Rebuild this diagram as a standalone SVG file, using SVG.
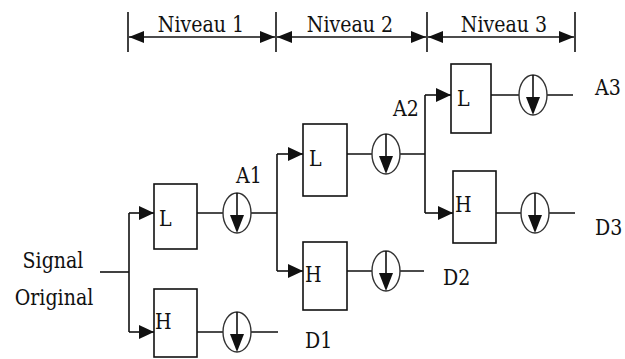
<svg xmlns="http://www.w3.org/2000/svg" xmlns:xlink="http://www.w3.org/1999/xlink" width="625" height="359" viewBox="0 0 625 359">
<style>
.ln{stroke:#111;stroke-width:1.6;fill:none}
.box{stroke:#111;stroke-width:1.6;fill:#fff}
text{font-family:'DejaVu Serif','Liberation Serif','Times New Roman',Times,serif;font-size:19px;fill:#111}
.tc{text-anchor:middle}
</style>
<defs>
<marker id="ah" markerUnits="userSpaceOnUse" markerWidth="16" markerHeight="16" viewBox="0 0 16 16" refX="15" refY="8" orient="auto">
<path d="M0,1 L15,8 L0,15 Z" fill="#111"/>
</marker>
<marker id="hh" markerUnits="userSpaceOnUse" markerWidth="16" markerHeight="14" viewBox="0 0 16 14" refX="15" refY="7" orient="auto-start-reverse">
<path d="M0,1 L15,7 L0,13 Z" fill="#111"/>
</marker>
<g id="ds">
<ellipse cx="0" cy="0" rx="14" ry="20" fill="#fff" stroke="#333" stroke-width="1.4"/>
<line x1="0" y1="-20" x2="0" y2="4" stroke="#111" stroke-width="1.6"/>
<path d="M-7,2 L7,2 L0,20 Z" fill="#111"/>
</g>
</defs>

<g id="header">
<line class="ln" x1="128" y1="12" x2="128" y2="52"/>
<line class="ln" x1="276" y1="12" x2="276" y2="52"/>
<line class="ln" x1="427" y1="12" x2="427" y2="52" stroke="#888"/>
<line class="ln" x1="575" y1="12" x2="575" y2="52"/>
<line class="ln" x1="129" y1="37" x2="275" y2="37" marker-start="url(#hh)" marker-end="url(#hh)"/>
<line class="ln" x1="277" y1="37" x2="426" y2="37" marker-start="url(#hh)" marker-end="url(#hh)"/>
<line class="ln" x1="428" y1="37" x2="574" y2="37" marker-start="url(#hh)" marker-end="url(#hh)"/>
<text class="tc" transform="translate(201,32) scale(1,1.2)">Niveau 1</text>
<text class="tc" transform="translate(350,32) scale(1,1.2)">Niveau 2</text>
<text class="tc" transform="translate(504,32) scale(1,1.2)">Niveau 3</text>
</g>

<g id="connectors">
<path class="ln" d="M100,272 H129"/>
<path class="ln" d="M129,213 V332"/>
<path class="ln" d="M129,213 H154" marker-end="url(#ah)"/>
<path class="ln" d="M129,332 H154" marker-end="url(#ah)"/>
<path class="ln" d="M197,213 H223 M251,213 H277"/>
<path class="ln" d="M197,332 H223 M251,332 H278"/>
<path class="ln" d="M277,154 V271"/>
<path class="ln" d="M277,154 H303" marker-end="url(#ah)"/>
<path class="ln" d="M277,271 H303" marker-end="url(#ah)"/>
<path class="ln" d="M347,154 H372 M400,154 H425"/>
<path class="ln" d="M347,271 H372 M400,271 H424"/>
<path class="ln" d="M425,95 V213"/>
<path class="ln" d="M425,95 H451" marker-end="url(#ah)"/>
<path class="ln" d="M425,213 H453" marker-end="url(#ah)"/>
<path class="ln" d="M491,95 H519 M547,95 H573"/>
<path class="ln" d="M496,213 H521 M549,213 H575"/>
</g>

<g id="input">
<text class="tc" transform="translate(53,268) scale(1,1.2)">Signal</text>
<text class="tc" transform="translate(54,305) scale(1,1.2)">Original</text>
</g>

<g id="L1"><rect class="box" x="154" y="184" width="43" height="65"/><text transform="translate(159,226) scale(1,1.2)">L</text></g>
<g id="H1"><rect class="box" x="154" y="289" width="43" height="68"/><text transform="translate(155,329) scale(1,1.2)">H</text></g>
<g id="DS_L1"><use xlink:href="#ds" x="237" y="213"/></g>
<g id="DS_H1"><use xlink:href="#ds" x="237" y="332"/></g>

<g id="L2"><rect class="box" x="303" y="124" width="44" height="72"/><text transform="translate(309,166) scale(1,1.2)">L</text></g>
<g id="H2"><rect class="box" x="303" y="242" width="44" height="68"/><text transform="translate(305,282) scale(1,1.2)">H</text></g>
<g id="DS_L2"><use xlink:href="#ds" x="386" y="154"/></g>
<g id="DS_H2"><use xlink:href="#ds" x="386" y="271"/></g>

<g id="L3"><rect class="box" x="451" y="64" width="40" height="69"/><text transform="translate(457,106) scale(1,1.2)">L</text></g>
<g id="H3"><rect class="box" x="453" y="171" width="43" height="72"/><text transform="translate(455,212) scale(1,1.2)">H</text></g>
<g id="DS_L3"><use xlink:href="#ds" x="533" y="95"/></g>
<g id="DS_H3"><use xlink:href="#ds" x="535" y="213"/></g>

<g id="labels">
<text transform="translate(236,183) scale(1,1.2)">A1</text>
<text transform="translate(393,116) scale(1,1.2)">A2</text>
<text transform="translate(595,95) scale(1,1.2)">A3</text>
<text transform="translate(305,348) scale(1,1.2)">D1</text>
<text transform="translate(443,285) scale(1,1.2)">D2</text>
<text transform="translate(595,235) scale(1,1.2)">D3</text>
</g>
</svg>
